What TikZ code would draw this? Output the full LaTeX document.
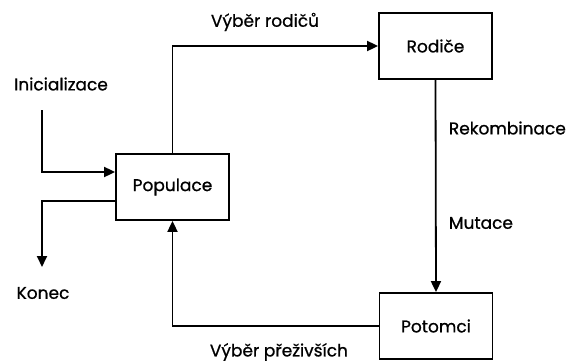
\documentclass[tikz,border=0pt]{standalone}
\usepackage{fontspec}
\setmainfont{Poppins}[FakeBold=0.8]
\usepackage{tikz}
\usetikzlibrary{positioning, arrows.meta}

\begin{document}
\begin{tikzpicture}[x=1pt, y=-1pt, line width=1.8pt,
		box/.style={draw, minimum width=113pt, minimum height=66pt, font=\fontsize{17}{19}\selectfont},
		lbl/.style={font=\fontsize{17}{19}\selectfont, inner sep=0pt},
		arr/.style={-{Triangle[length=11pt, width=10pt]}}]
			\useasboundingbox (0,0) rectangle (573,362);
			
			% bloky
			\node[box] (pop) at (172.5,187) {Populace};
			\node[box] (rod) at (435.5,46) {Rodiče};
			\node[box] (pot) at (436,326) {Potomci};
			
			% volne konce
			\coordinate (init) at (42,110);
			\coordinate (konec) at (42,267);
			
			\draw[arr] (pop.north) |- (rod.west);
			\draw[arr] (rod.south) -- (pot.north);
			\draw[arr] (pot.west) -| (pop.south);
			\draw[arr] (init) |- ([yshift=15pt]pop.west);
			\draw[arr] ([yshift=-14pt]pop.west) -| (konec);
			
			% popisky
			\node[lbl] (vrod) at (265,22) {Výběr rodičů};
			\node[lbl] (inic) at (61,84) {Inicializace};
			\node[lbl, anchor=west] (rek) at (448,128) {Rekombinace};
			\node[lbl, anchor=west] (mut) at (448,223) {Mutace};
			\node[lbl] (kon) at (43,293) {Konec};
			\node[lbl, anchor=west] (vpr) at (209,352) {Výběr přeživších};
		\end{tikzpicture}
\end{document}
